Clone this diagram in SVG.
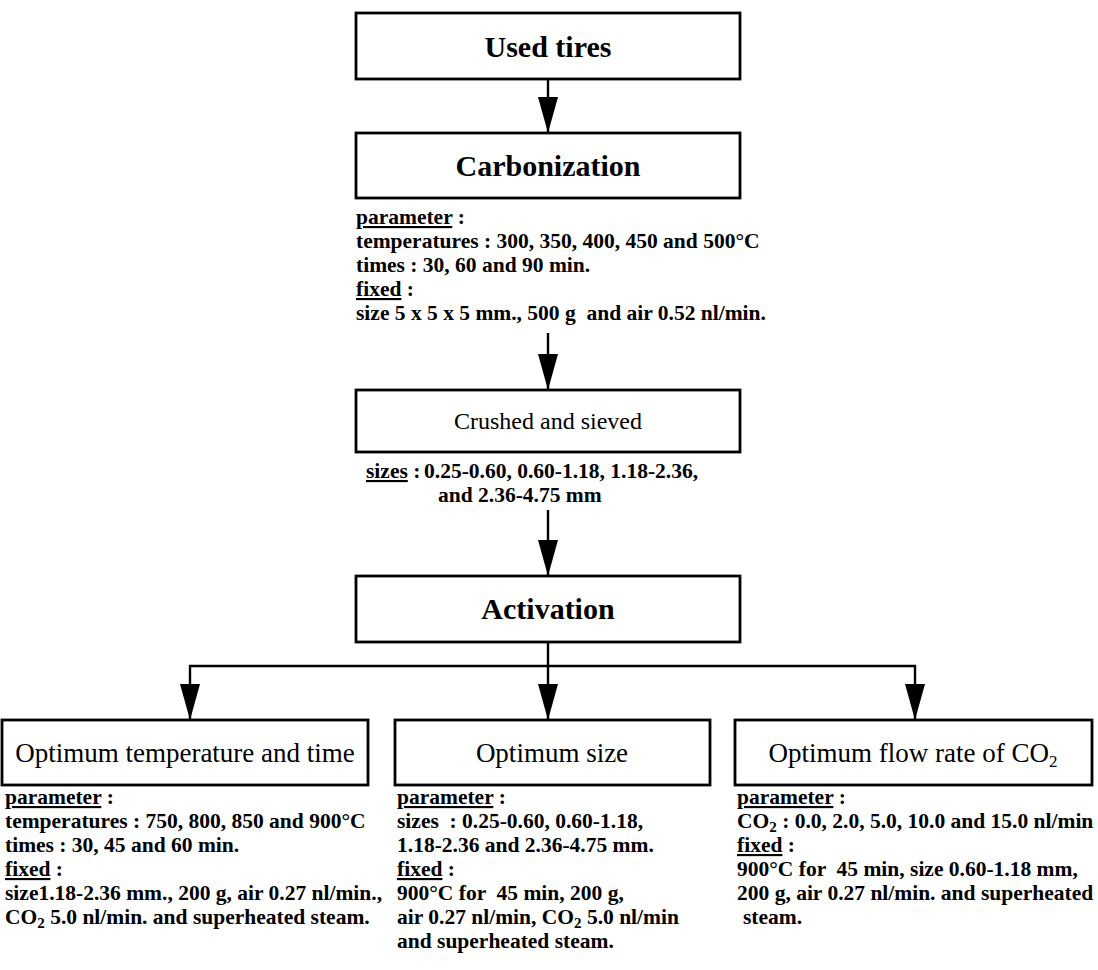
<svg xmlns="http://www.w3.org/2000/svg" width="1098" height="970" viewBox="0 0 1098 970">
<style>
.box{fill:#fff;stroke:#000;stroke-width:2.8}
.ttl{font-family:"Liberation Serif","Times New Roman",serif;font-weight:bold;font-size:30px;text-anchor:middle;fill:#000}
.lbl{font-family:"Liberation Serif","Times New Roman",serif;font-size:24px;text-anchor:middle;fill:#000}
.lbl2{font-family:"Liberation Serif","Times New Roman",serif;font-size:27px;text-anchor:middle;fill:#000}
.txt{font-family:"Liberation Serif","Times New Roman",serif;font-weight:bold;font-size:21.5px;fill:#000}
.u{text-decoration:underline}
.con{fill:none;stroke:#000;stroke-width:2.4}
</style>
<defs>
<marker id="ah" viewBox="0 0 36 20" refX="36" refY="10" markerWidth="36" markerHeight="20" markerUnits="userSpaceOnUse" orient="auto">
<path d="M0,0 L36,10 L0,20 z" fill="#000"/>
</marker>
</defs>
<g id="connectors">
<line class="con" x1="548" y1="79" x2="548" y2="133" marker-end="url(#ah)"/>
<line class="con" x1="548" y1="333" x2="548" y2="390" marker-end="url(#ah)"/>
<line class="con" x1="548" y1="510" x2="548" y2="576" marker-end="url(#ah)"/>
<polyline class="con" points="548,642 548,666"/>
<polyline class="con" points="189,666 916,666"/>
<line class="con" x1="190" y1="665" x2="190" y2="720" marker-end="url(#ah)"/>
<line class="con" x1="548" y1="665" x2="548" y2="720" marker-end="url(#ah)"/>
<line class="con" x1="915" y1="665" x2="915" y2="720" marker-end="url(#ah)"/>
</g>
<g id="used-tires">
<rect class="box" x="356" y="13" width="384" height="66"/>
<text class="ttl" x="548" y="57" font-size="31">Used tires</text>
</g>
<g id="carbonization">
<rect class="box" x="356" y="133" width="384" height="65"/>
<text class="ttl" x="548" y="176">Carbonization</text>
<text class="txt" x="356" y="224"><tspan class="u">parameter</tspan> :</text>
<text class="txt" x="356" y="248">temperatures : 300, 350, 400, 450 and 500°C</text>
<text class="txt" x="356" y="272">times : 30, 60 and 90 min.</text>
<text class="txt" x="356" y="296"><tspan class="u">fixed</tspan> :</text>
<text class="txt" x="356" y="320" xml:space="preserve">size 5 x 5 x 5 mm., 500 g  and air 0.52 nl/min.</text>
</g>
<g id="crushed-sieved">
<rect class="box" x="356" y="390" width="384" height="62"/>
<text class="lbl" x="548" y="429">Crushed and sieved</text>
<text class="txt" x="366" y="478"><tspan class="u">sizes</tspan> :<tspan x="424">0.25-0.60, 0.60-1.18, 1.18-2.36,</tspan></text>
<text class="txt" x="438" y="502">and 2.36-4.75 mm</text>
</g>
<g id="activation">
<rect class="box" x="356" y="576" width="384" height="66"/>
<text class="ttl" x="548" y="619">Activation</text>
</g>
<g id="opt-temp-time">
<rect class="box" x="2" y="720" width="366" height="65"/>
<text class="lbl2" x="185" y="762">Optimum temperature and time</text>
<text class="txt" x="5" y="804"><tspan class="u">parameter</tspan> :</text>
<text class="txt" x="5" y="828">temperatures : 750, 800, 850 and 900°C</text>
<text class="txt" x="5" y="852">times : 30, 45 and 60 min.</text>
<text class="txt" x="5" y="876"><tspan class="u">fixed</tspan> :</text>
<text class="txt" x="5" y="900">size1.18-2.36 mm., 200 g, air 0.27 nl/min.,</text>
<text class="txt" x="5" y="924">CO<tspan font-size="15" dy="4">2</tspan><tspan dy="-4"> 5.0 nl/min. and superheated steam.</tspan></text>
</g>
<g id="opt-size">
<rect class="box" x="395" y="720" width="315" height="65"/>
<text class="lbl2" x="552" y="762">Optimum size</text>
<text class="txt" x="397" y="804"><tspan class="u">parameter</tspan> :</text>
<text class="txt" x="397" y="828" xml:space="preserve">sizes  : 0.25-0.60, 0.60-1.18,</text>
<text class="txt" x="397" y="852">1.18-2.36 and 2.36-4.75 mm.</text>
<text class="txt" x="397" y="876"><tspan class="u">fixed</tspan> :</text>
<text class="txt" x="397" y="900" xml:space="preserve">900°C for  45 min, 200 g,</text>
<text class="txt" x="397" y="924">air 0.27 nl/min, CO<tspan font-size="15" dy="4">2</tspan><tspan dy="-4"> 5.0 nl/min</tspan></text>
<text class="txt" x="397" y="948">and superheated steam.</text>
</g>
<g id="opt-flow-co2">
<rect class="box" x="735" y="720" width="357" height="65"/>
<text class="lbl2" x="913" y="762">Optimum flow rate of CO<tspan font-size="17" dy="5">2</tspan></text>
<text class="txt" x="737" y="804"><tspan class="u">parameter</tspan> :</text>
<text class="txt" x="737" y="828">CO<tspan font-size="15" dy="4">2</tspan><tspan dy="-4"> : 0.0, 2.0, 5.0, 10.0 and 15.0 nl/min</tspan></text>
<text class="txt" x="737" y="852"><tspan class="u">fixed</tspan> :</text>
<text class="txt" x="737" y="876" xml:space="preserve">900°C for  45 min, size 0.60-1.18 mm,</text>
<text class="txt" x="737" y="900">200 g, air 0.27 nl/min. and superheated</text>
<text class="txt" x="743" y="924">steam.</text>
</g>
</svg>
